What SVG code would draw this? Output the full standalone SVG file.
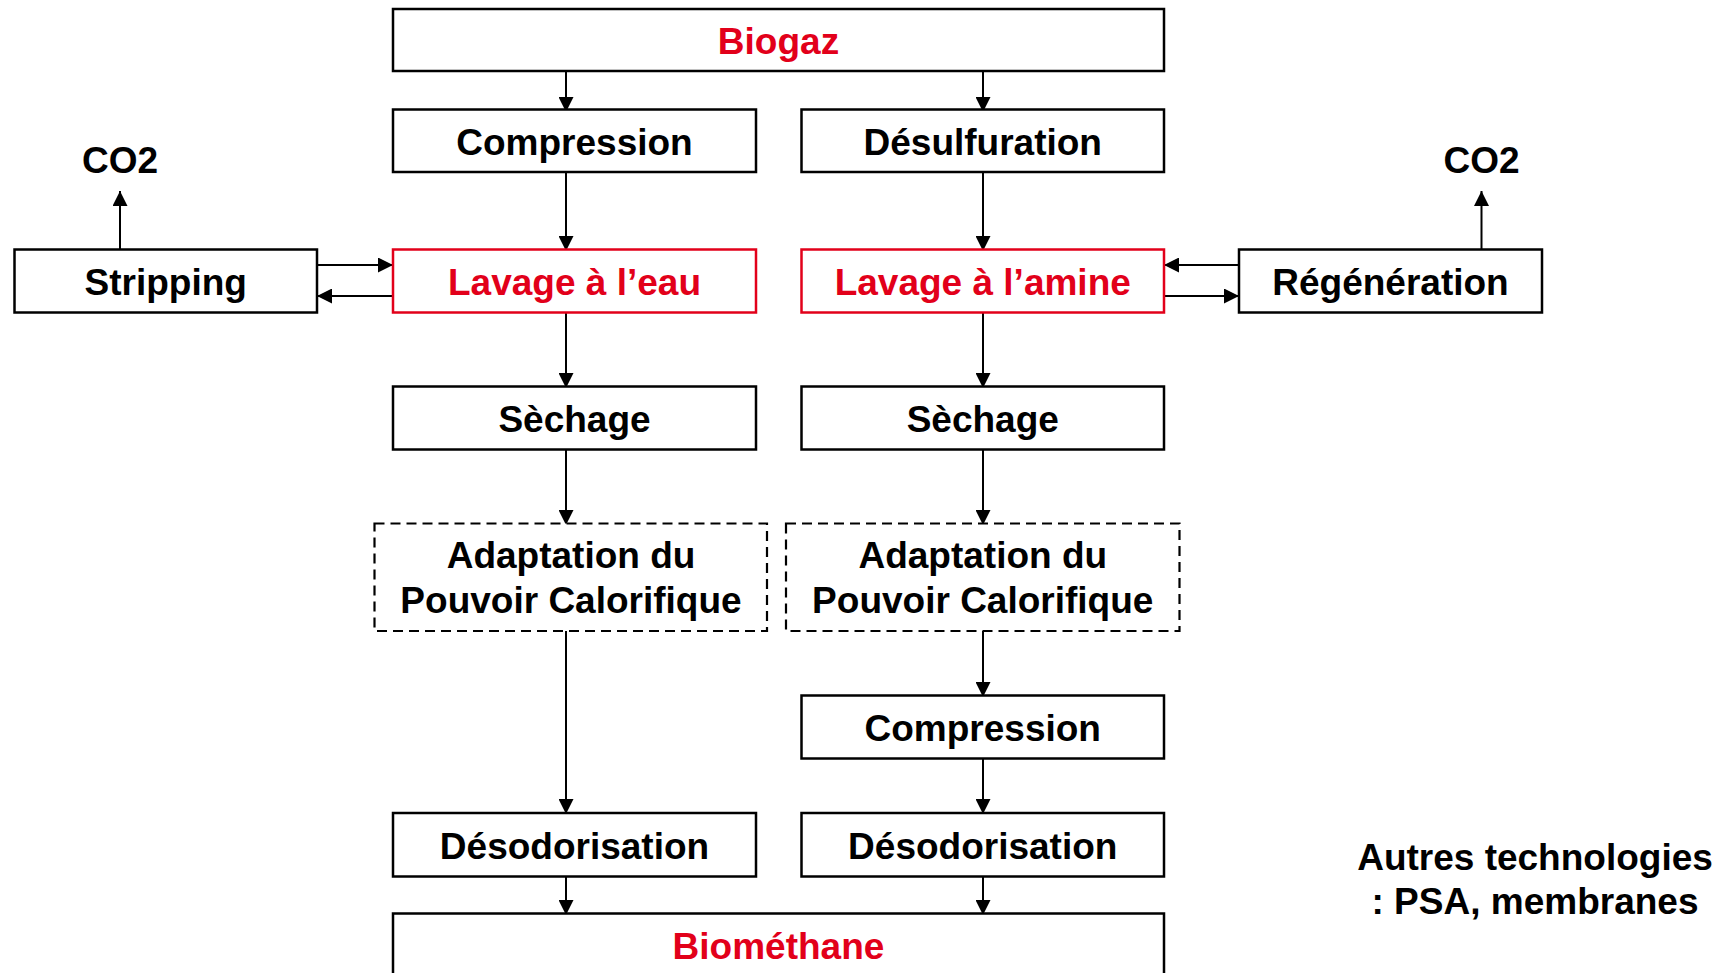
<svg xmlns="http://www.w3.org/2000/svg" width="1724" height="973" viewBox="0 0 1724 973">
<style>
  .box { fill: #ffffff; stroke: #000000; stroke-width: 2.5; }
  .red { stroke: #E2001A; }
  .dash { stroke-dasharray: 10 6; stroke-width: 2.2; }
  .t { font-family: "Liberation Sans", Arial, sans-serif; font-weight: bold; font-size: 37px; text-anchor: middle; fill: #000000; }
  .tr { fill: #E2001A; }
  .c { stroke: #000000; stroke-width: 2; fill: none; marker-end: url(#ah); }
</style>
<defs>
  <marker id="ah" markerUnits="userSpaceOnUse" markerWidth="15" markerHeight="15" refX="15" refY="7.5" orient="auto" viewBox="0 0 15 15">
    <path d="M0,0 L15,7.5 L0,15 z" fill="#000000"/>
  </marker>
</defs>
<rect width="1724" height="973" fill="#ffffff"/>

<g id="connectors">
  <line class="c" x1="566" y1="71" x2="566" y2="112"/>
  <line class="c" x1="983" y1="71" x2="983" y2="112"/>
  <line class="c" x1="566" y1="172" x2="566" y2="251"/>
  <line class="c" x1="983" y1="172" x2="983" y2="251"/>
  <line class="c" x1="317" y1="265" x2="393" y2="265"/>
  <line class="c" x1="393" y1="296" x2="317" y2="296"/>
  <line class="c" x1="1239" y1="265" x2="1164" y2="265"/>
  <line class="c" x1="1164" y1="296" x2="1239" y2="296"/>
  <line class="c" x1="120" y1="249" x2="120" y2="191"/>
  <line class="c" x1="1481.5" y1="249" x2="1481.5" y2="191"/>
  <line class="c" x1="566" y1="313" x2="566" y2="388"/>
  <line class="c" x1="983" y1="313" x2="983" y2="388"/>
  <line class="c" x1="566" y1="450" x2="566" y2="525"/>
  <line class="c" x1="983" y1="450" x2="983" y2="525"/>
  <line class="c" x1="566" y1="631" x2="566" y2="814"/>
  <line class="c" x1="983" y1="631" x2="983" y2="697"/>
  <line class="c" x1="983" y1="759" x2="983" y2="814"/>
  <line class="c" x1="566" y1="877" x2="566" y2="915"/>
  <line class="c" x1="983" y1="877" x2="983" y2="915"/>
</g>

<g id="biogaz">
  <rect class="box" x="393" y="9" width="771" height="62"/>
  <text class="t tr" x="778.5" y="54">Biogaz</text>
</g>
<g id="compression1">
  <rect class="box" x="393" y="109.5" width="363" height="62.5"/>
  <text class="t" x="574.5" y="155">Compression</text>
</g>
<g id="desulfuration">
  <rect class="box" x="801.5" y="109.5" width="362.5" height="62.5"/>
  <text class="t" x="982.75" y="155">Désulfuration</text>
</g>
<g id="co2-left">
  <text class="t" x="120" y="173">CO2</text>
</g>
<g id="co2-right">
  <text class="t" x="1481.5" y="173">CO2</text>
</g>
<g id="stripping">
  <rect class="box" x="14.5" y="249.5" width="302.5" height="63"/>
  <text class="t" x="165.75" y="295">Stripping</text>
</g>
<g id="lavage-eau">
  <rect class="box red" x="393" y="249.5" width="363" height="63"/>
  <text class="t tr" x="574.5" y="295">Lavage à l’eau</text>
</g>
<g id="lavage-amine">
  <rect class="box red" x="801.5" y="249.5" width="362.5" height="63"/>
  <text class="t tr" x="982.75" y="295">Lavage à l’amine</text>
</g>
<g id="regeneration">
  <rect class="box" x="1239" y="249.5" width="303" height="63"/>
  <text class="t" x="1390.5" y="295">Régénération</text>
</g>
<g id="sechage-left">
  <rect class="box" x="393" y="386.5" width="363" height="63"/>
  <text class="t" x="574.5" y="432">Sèchage</text>
</g>
<g id="sechage-right">
  <rect class="box" x="801.5" y="386.5" width="362.5" height="63"/>
  <text class="t" x="982.75" y="432">Sèchage</text>
</g>
<g id="adaptation-left">
  <rect class="box dash" x="374.5" y="523.5" width="392.5" height="107.5"/>
  <text class="t" x="571" y="568">Adaptation du</text>
  <text class="t" x="571" y="612.5">Pouvoir Calorifique</text>
</g>
<g id="adaptation-right">
  <rect class="box dash" x="786" y="523.5" width="393.5" height="107.5"/>
  <text class="t" x="982.75" y="568">Adaptation du</text>
  <text class="t" x="982.75" y="612.5">Pouvoir Calorifique</text>
</g>
<g id="compression2">
  <rect class="box" x="801.5" y="695.5" width="362.5" height="63"/>
  <text class="t" x="982.75" y="741">Compression</text>
</g>
<g id="desodorisation-left">
  <rect class="box" x="393" y="813" width="363" height="63.5"/>
  <text class="t" x="574.5" y="858.5">Désodorisation</text>
</g>
<g id="desodorisation-right">
  <rect class="box" x="801.5" y="813" width="362.5" height="63.5"/>
  <text class="t" x="982.75" y="858.5">Désodorisation</text>
</g>
<g id="biomethane">
  <rect class="box" x="393" y="913.5" width="771" height="80"/>
  <text class="t tr" x="778.5" y="959">Biométhane</text>
</g>
<g id="note">
  <text class="t" x="1535" y="870">Autres technologies</text>
  <text class="t" x="1535" y="914">: PSA, membranes</text>
</g>
</svg>
